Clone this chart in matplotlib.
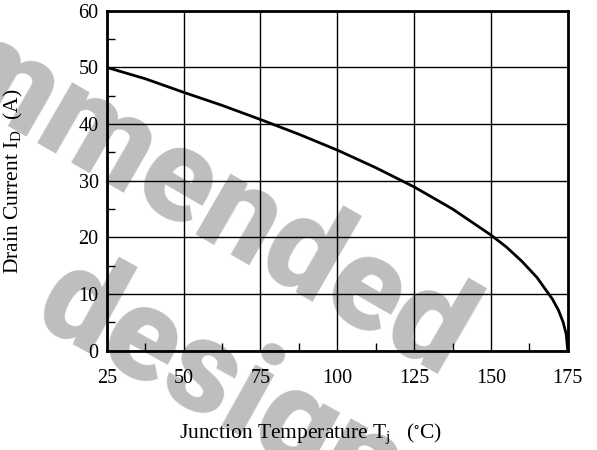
import numpy as np
import matplotlib
matplotlib.use("Agg")
import matplotlib.pyplot as plt
from matplotlib.ticker import MultipleLocator

plt.rcParams['font.family'] = 'Liberation Serif'
plt.rcParams['mathtext.fontset'] = 'custom'
plt.rcParams['mathtext.rm'] = 'Liberation Serif'
plt.rcParams['mathtext.it'] = 'Liberation Serif'

# Derating curve
tj = [25, 37.5, 50, 62.5, 75, 87.5, 100, 112.5, 125, 137.5, 150, 155, 160, 165, 168, 170, 172, 173.5, 174.5, 175]
id_a = [50, 48.0, 45.6, 43.3, 40.8, 38.2, 35.4, 32.3, 28.9, 25.0, 20.4, 18.3, 15.8, 12.9, 10.6, 9.1, 7.1, 5.0, 2.9, 0]

x_ticks = [25, 50, 75, 100, 125, 150, 175]
y_ticks = [0, 10, 20, 30, 40, 50, 60]

fig = plt.figure(figsize=(5.97, 4.5), dpi=100)
ax = fig.add_axes([0.179, 0.221, 0.772, 0.755])
ax.patch.set_alpha(0)

# watermark behind the plot
wm = dict(color='#bebebe', fontsize=94, fontweight='heavy', family='Roboto',
          rotation_mode='anchor', va='baseline', zorder=-5)
fig.text(442 / 597, 1 - 380 / 450, 'recommended', ha='right', rotation=-30, **wm)
fig.text(30 / 597, 1 - 322 / 450, 'design', ha='left', rotation=-29, **wm)

ax.plot(tj, id_a, color='black', lw=2, zorder=3)

ax.set_xlim(25, 175)
ax.set_ylim(0, 60)
ax.set_xticks(x_ticks)
ax.set_yticks(y_ticks)
ax.xaxis.set_minor_locator(MultipleLocator(12.5))
ax.yaxis.set_minor_locator(MultipleLocator(5))
ax.grid(True, which='major', color='black', lw=1)
ax.tick_params(which='major', length=0, labelsize=14.5)
ax.tick_params(axis='x', which='major', pad=13)
ax.tick_params(axis='y', which='major', pad=6)
ax.tick_params(which='minor', direction='in', length=6, width=1, color='black')
for s in ax.spines.values():
    s.set_linewidth(2)

ax.set_xlabel(r'Junction Temperature T$_\mathregular{j}$   ($\mathregular{^{\circ}}$C)', fontsize=15.5)
ax.set_ylabel(r'Drain Current I$_\mathregular{D}$  (A)', fontsize=15.5)
ax.xaxis.set_label_coords(0.443, -0.21)
ax.yaxis.set_label_coords(-0.178, 0.5)

fig.savefig('out.png', dpi=100)
